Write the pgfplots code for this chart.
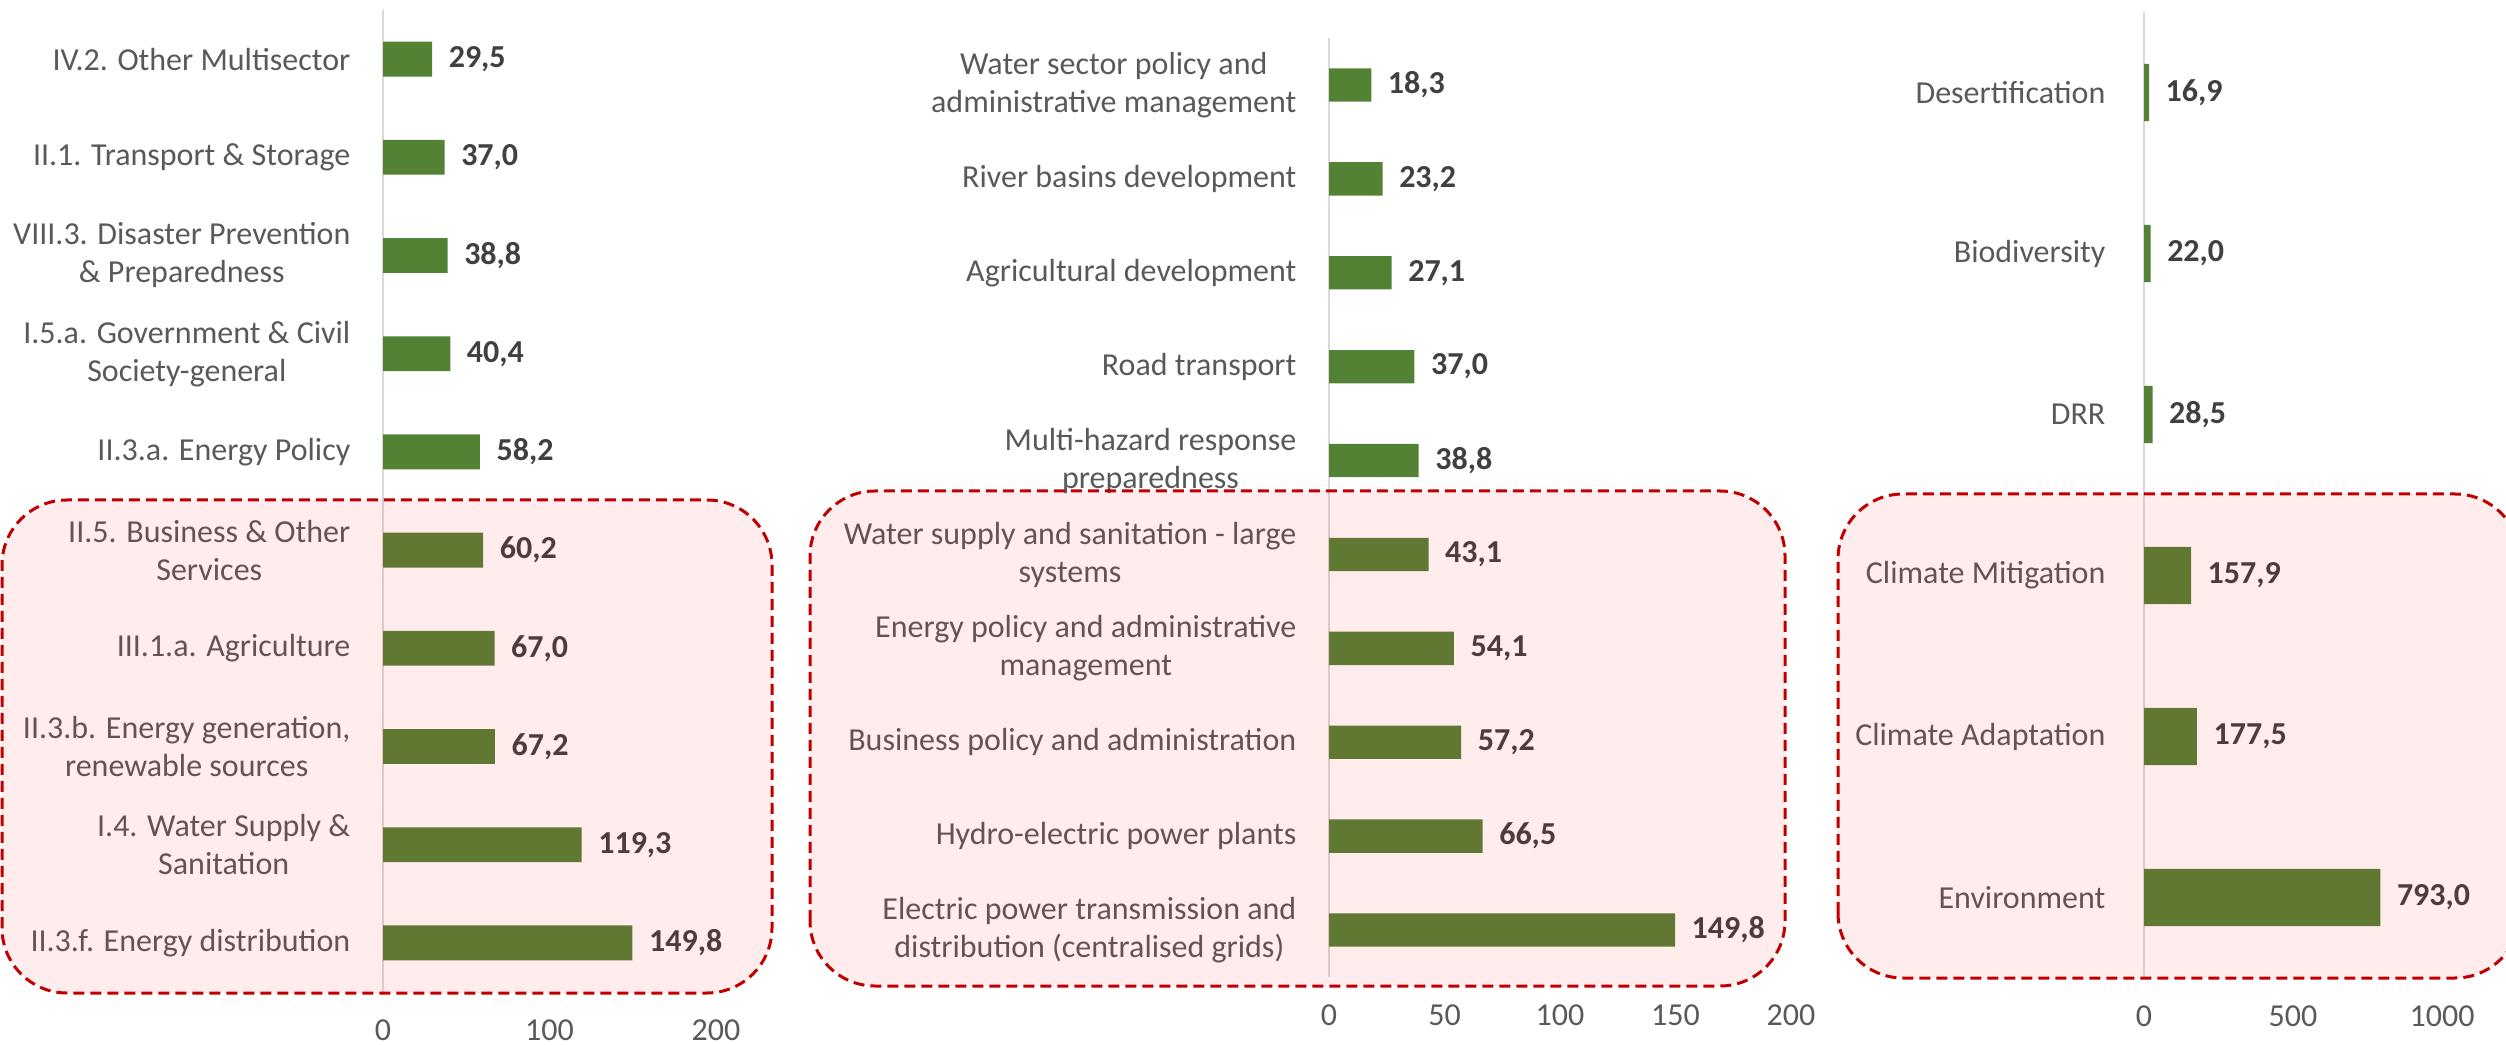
\documentclass[border=0pt]{standalone}
\usepackage{fontspec}
\setmainfont{Carlito}
\usepackage{pgfplots}
\pgfplotsset{compat=1.18}
\definecolor{bargreen}{HTML}{548235}
\definecolor{axisgray}{HTML}{D9D9D9}
\definecolor{catgray}{HTML}{595959}
\definecolor{valgray}{HTML}{404040}
\definecolor{boxred}{HTML}{C00000}
\pgfplotsset{
  /pgf/number format/assume math mode=true,
  /pgf/number format/1000 sep={},
  panel/.style={
    scale only axis,
    xbar, bar width=0.355,
    y dir=reverse,
    xmin=0,
    clip=false,
    axis x line*=bottom, axis y line*=left,
    x axis line style={draw=none},
    y axis line style={draw=axisgray, line width=0.6pt},
    major tick length=0pt,
    tick label style={font=\fontsize{9.6pt}{11.4pt}\selectfont, text=catgray},
    yticklabel style={align=center, inner sep=0pt, anchor=east, xshift=-9.6pt},
    xticklabel style={anchor=center, inner sep=0pt, yshift=-11.6pt},
    point meta=x,
    nodes near coords={\pgfmathprintnumber[fixed,fixed zerofill,precision=1,use comma]{\pgfplotspointmeta}},
    nodes near coords style={font=\bfseries\fontsize{9.6pt}{11.4pt}\selectfont, text=valgray, anchor=west, inner sep=0pt, xshift=4.8pt},
  },
  greenbar/.style={draw=none, fill=bargreen},
}
\begin{document}
\begin{tikzpicture}
% Panel 1
\begin{axis}[panel,
  at={(114.9pt,15.6pt)}, anchor=south west,
  width=99.9pt, height=294.6pt,
  xmax=200, xtick={0,100,200},
  ymin=-0.5, ymax=9.5, ytick={0,...,9},
  yticklabels={{IV.2. Other Multisector},{II.1. Transport \& Storage},{VIII.3. Disaster Prevention\\\& Preparedness},{I.5.a. Government \& Civil\\Society-general},{II.3.a. Energy Policy},{II.5. Business \& Other\\Services},{III.1.a. Agriculture},{II.3.b. Energy generation,\\renewable sources},{I.4. Water Supply \&\\Sanitation},{II.3.f. Energy distribution}},
]
\addplot[greenbar] coordinates {(29.5,0) (37.0,1) (38.8,2) (40.4,3) (58.2,4) (60.2,5) (67.0,6) (67.2,7) (119.3,8) (149.8,9)};
\end{axis}
% Panel 2
\begin{axis}[panel,
  at={(398.7pt,20.1pt)}, anchor=south west,
  width=138.6pt, height=281.7pt,
  xmax=200, xtick={0,50,100,150,200},
  ymin=-0.5, ymax=9.5, ytick={0,...,9},
  yticklabels={{Water sector policy and\\administrative management},{River basins development},{Agricultural development},{Road transport},{Multi-hazard response\\preparedness},{Water supply and sanitation - large\\systems},{Energy policy and administrative\\management},{Business policy and administration},{Hydro-electric power plants},{Electric power transmission and\\distribution (centralised grids)}},
]
\addplot[greenbar] coordinates {(18.3,0) (23.2,1) (27.1,2) (37.0,3) (38.8,4) (43.1,5) (54.1,6) (57.2,7) (66.5,8) (149.8,9)};
\end{axis}
% Panel 3
\begin{axis}[panel,
  at={(643.2pt,19.8pt)}, anchor=south west,
  width=89.4pt, height=289.8pt,
  xmax=1000, xtick={0,500,1000},
  ymin=-0.5, ymax=5.5, ytick={0,...,5},
  yticklabels={{Desertification},{Biodiversity},{DRR},{Climate Mitigation},{Climate Adaptation},{Environment}},
  yticklabel style={xshift=-1.8pt},
]
\addplot[greenbar] coordinates {(16.9,0) (22.0,1) (28.5,2) (157.9,3) (177.5,4) (793.0,5)};
\end{axis}
% highlight boxes
\tikzset{hl/.style={draw=boxred, line width=0.9pt, dash pattern=on 3.3pt off 1.8pt, fill=red, fill opacity=0.076, draw opacity=1, rounded corners=19.5pt}}
\draw[hl] (0.6pt,15.3pt) rectangle (231.6pt,163.2pt);
\draw[hl] (243pt,17.4pt) rectangle (535.5pt,165.9pt);
\draw[hl] (551.4pt,19.8pt) rectangle (756pt,165pt);
\pgfresetboundingbox
\useasboundingbox (0,0) rectangle (751.8pt,313.2pt);
\end{tikzpicture}
\end{document}
